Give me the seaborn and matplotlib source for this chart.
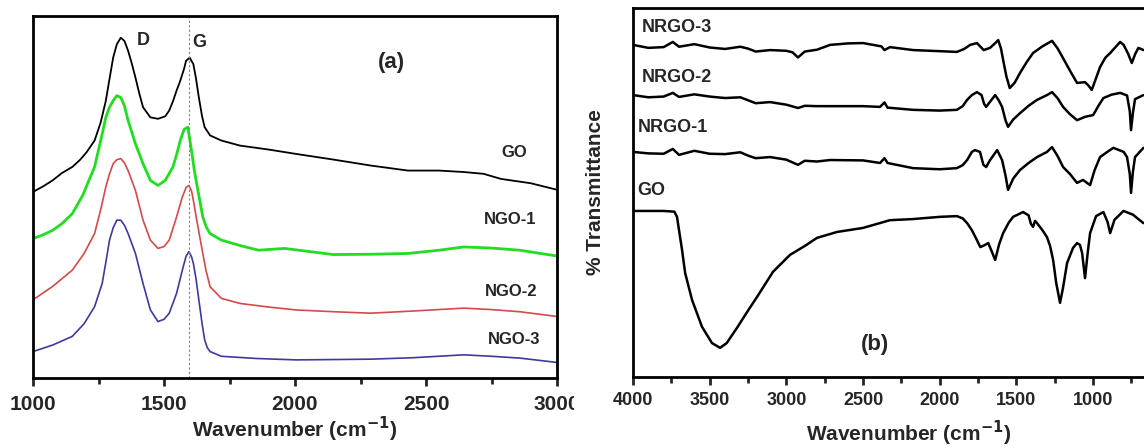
import numpy as np
import pandas as pd
import seaborn as sns
import matplotlib.pyplot as plt
from matplotlib.patches import Rectangle
from matplotlib.ticker import MultipleLocator, FixedLocator

# ---------------- (a) Raman spectra ----------------
raman_go_x = [1000, 1040, 1075, 1110, 1150, 1180, 1205, 1235, 1258, 1278, 1292, 1306, 1320, 1335,
              1349, 1363, 1377, 1391, 1405, 1420, 1448, 1477, 1505, 1520, 1534, 1548, 1562, 1577,
              1584, 1598, 1612, 1622, 1633, 1645, 1655, 1676, 1719, 1790, 1900, 2004, 2150, 2288,
              2431, 2550, 2644, 2720, 2786, 2900, 3000]
raman_go_y = [51.4, 53.0, 54.6, 56.6, 58.3, 60.3, 62.4, 65.6, 70.5, 76.6, 82.6, 88.5, 92.2, 94.0,
              93.1, 90.4, 86.9, 83.0, 78.8, 74.8, 72.0, 71.6, 72.3, 73.9, 76.4, 79.4, 82.1, 85.5,
              87.6, 88.5, 86.7, 82.8, 77.5, 72.4, 69.3, 67.0, 65.6, 64.2, 63.1, 61.9, 60.3, 58.7,
              57.3, 57.3, 56.9, 56.4, 55.0, 53.8, 52.0]

raman_ngo1_x = [1000, 1040, 1075, 1110, 1150, 1190, 1235, 1258, 1278, 1292, 1306, 1320, 1335, 1349,
                1363, 1391, 1420, 1448, 1477, 1505, 1534, 1548, 1562, 1577, 1591, 1605, 1616, 1627,
                1648, 1662, 1676, 1719, 1790, 1861, 1960, 2146, 2300, 2431, 2550, 2644, 2750, 2858,
                3000]
raman_ngo1_y = [38.5, 39.6, 40.8, 42.6, 45.4, 50.5, 58.3, 65.5, 72.0, 74.8, 76.6, 78.0, 77.5, 75.2,
                71.1, 64.7, 59.2, 54.6, 53.2, 54.6, 58.3, 61.7, 65.6, 68.7, 69.3, 62.8, 57.2, 52.8,
                44.5, 41.6, 39.9, 38.1, 36.6, 35.3, 35.8, 34.1, 34.2, 34.4, 35.3, 36.2, 35.9, 35.3,
                33.7]

raman_ngo2_x = [1000, 1075, 1150, 1195, 1235, 1258, 1278, 1292, 1306, 1320, 1335, 1349, 1363, 1391,
                1420, 1448, 1477, 1500, 1520, 1548, 1570, 1584, 1595, 1605, 1612, 1625, 1641, 1660,
                1676, 1719, 1790, 1900, 2004, 2150, 2288, 2450, 2644, 2750, 2858, 3000]
raman_ngo2_y = [21.6, 25.3, 29.8, 34.4, 39.9, 46.4, 52.8, 56.4, 59.2, 60.3, 60.6, 59.4, 57.3, 51.8,
                43.6, 38.1, 35.8, 36.3, 38.1, 44.5, 50.0, 52.6, 53.2, 51.7, 49.1, 43.6, 37.2, 29.8,
                25.2, 22.0, 20.6, 19.6, 18.8, 18.3, 17.9, 18.5, 19.3, 18.9, 18.3, 17.0]

raman_ngo3_x = [1000, 1075, 1150, 1195, 1235, 1264, 1280, 1292, 1306, 1320, 1335, 1349, 1363, 1391,
                1420, 1448, 1477, 1500, 1520, 1548, 1570, 1584, 1595, 1605, 1612, 1622, 1633, 1645,
                1655, 1665, 1676, 1719, 1850, 2004, 2150, 2288, 2450, 2644, 2750, 2858, 3000]
raman_ngo3_y = [7.3, 9.1, 11.5, 15.0, 19.7, 26.1, 32.8, 38.1, 41.5, 43.6, 43.6, 42.2, 39.9, 34.4,
                26.1, 18.8, 15.6, 16.2, 17.9, 23.4, 29.8, 33.6, 34.9, 33.5, 31.7, 27.5, 21.6, 15.2,
                10.6, 8.4, 7.3, 6.0, 5.4, 5.0, 5.1, 5.2, 5.6, 6.4, 6.0, 5.5, 4.3]

raman_names = ["GO", "NGO-1", "NGO-2", "NGO-3"]
raman_colors = ["black", "#22dd22", "#d24a4a", "#3b3b9c"]
g_band = 1595

# ---------------- (b) FTIR spectra ----------------
ftir_go_x = [4000, 3800, 3730, 3713, 3680, 3660, 3615, 3550, 3485, 3432, 3389, 3322, 3256, 3191,
             3087, 2976, 2880, 2800, 2670, 2500, 2324, 2174, 2000, 1888, 1850, 1821, 1790, 1757,
             1735, 1713, 1683, 1660, 1638, 1612, 1586, 1550, 1521, 1456, 1420, 1405, 1391, 1378,
             1365, 1330, 1300, 1280, 1260, 1240, 1215, 1195, 1169, 1130, 1104, 1085, 1071, 1052,
             1035, 1019, 980, 932, 905, 888, 860, 801, 740, 671]
ftir_go_y = [45.0, 45.0, 44.8, 43.4, 34.4, 28.2, 20.9, 13.6, 9.2, 7.9, 9.2, 13.3, 17.6, 21.7,
             28.5, 33.1, 35.5, 37.7, 39.3, 40.4, 42.5, 42.8, 43.4, 43.6, 43.0, 41.7, 39.8, 37.1,
             35.2, 35.6, 36.3, 34.0, 31.7, 36.0, 39.0, 41.8, 43.4, 44.7, 43.8, 41.5, 40.7, 42.3,
             41.7, 39.8, 37.9, 35.5, 31.7, 25.5, 20.1, 24.3, 30.9, 35.0, 36.3, 35.8, 33.6, 26.8,
             33.5, 39.0, 43.6, 44.7, 42.0, 39.0, 42.6, 45.0, 44.0, 41.7]

ftir_n1_x = [4000, 3900, 3800, 3740, 3700, 3600, 3500, 3400, 3300, 3250, 3200, 3106, 3000, 2924,
             2880, 2800, 2715, 2500, 2389, 2360, 2340, 2174, 2000, 1888, 1850, 1821, 1790, 1770,
             1737, 1715, 1697, 1671, 1625, 1593, 1570, 1554, 1520, 1476, 1420, 1365, 1300, 1267,
             1230, 1195, 1150, 1104, 1065, 1019, 990, 954, 900, 867, 800, 778, 760, 752, 740,
             726, 671]
ftir_n1_y = [61.0, 60.6, 60.5, 61.8, 60.2, 61.3, 60.5, 60.4, 60.9, 60.0, 59.3, 59.6, 58.9, 57.5,
             58.6, 58.4, 58.8, 58.7, 58.0, 59.3, 58.0, 56.6, 56.3, 56.6, 57.4, 58.8, 61.0, 61.5,
             61.0, 57.5, 56.9, 58.8, 61.5, 58.8, 54.5, 50.7, 53.8, 56.1, 58.0, 59.6, 61.0, 62.3,
             59.8, 56.9, 55.0, 52.6, 53.4, 52.0, 56.0, 59.6, 61.2, 62.1, 61.0, 59.6, 55.0, 49.9,
             55.5, 59.6, 62.1]

ftir_n2_x = [4000, 3900, 3800, 3740, 3700, 3600, 3500, 3400, 3300, 3250, 3200, 3106, 3000, 2924,
             2880, 2800, 2715, 2500, 2389, 2360, 2340, 2174, 2000, 1888, 1850, 1821, 1790, 1757,
             1727, 1710, 1697, 1638, 1615, 1593, 1570, 1554, 1520, 1476, 1420, 1365, 1300, 1267,
             1230, 1195, 1150, 1104, 1052, 999, 960, 932, 880, 823, 778, 760, 752, 740, 726, 671]
ftir_n2_y = [76.4, 75.8, 76.0, 77.0, 75.9, 76.6, 76.0, 75.6, 75.8, 75.0, 74.2, 74.5, 73.8, 72.9,
             73.5, 73.4, 73.4, 73.4, 73.2, 74.4, 73.0, 72.4, 72.2, 72.4, 73.4, 75.1, 76.4, 77.2,
             76.4, 74.0, 73.2, 76.4, 75.0, 73.2, 69.5, 67.8, 69.8, 71.5, 73.5, 75.1, 76.4, 77.2,
             75.5, 73.2, 71.2, 69.6, 70.5, 71.0, 73.8, 75.6, 76.5, 77.0, 76.3, 72.0, 66.9, 71.5,
             75.3, 76.4]

ftir_n3_x = [4000, 3900, 3800, 3740, 3700, 3600, 3500, 3400, 3300, 3250, 3200, 3106, 3000, 2960,
             2924, 2880, 2800, 2715, 2600, 2500, 2380, 2360, 2324, 2174, 2000, 1888, 1840, 1801,
             1757, 1713, 1671, 1640, 1618, 1600, 1586, 1565, 1543, 1510, 1476, 1430, 1391, 1330,
             1267, 1230, 1195, 1150, 1104, 1052, 1030, 1008, 980, 954, 920, 888, 823, 800, 770,
             747, 725, 704, 671]
ftir_n3_y = [90.0, 89.2, 89.4, 90.8, 89.5, 90.2, 89.3, 88.9, 89.5, 89.0, 88.2, 88.6, 88.4, 88.0,
             86.6, 88.2, 88.7, 90.0, 90.4, 90.5, 89.6, 88.6, 89.4, 88.6, 88.3, 88.1, 88.9, 90.0,
             90.5, 88.6, 89.2, 90.4, 91.3, 89.0, 85.9, 81.5, 78.3, 79.8, 82.4, 85.5, 87.8, 89.6,
             91.1, 89.0, 86.4, 83.0, 79.7, 79.9, 79.0, 77.8, 81.0, 84.0, 86.5, 87.8, 90.8, 90.0,
             87.5, 85.1, 87.5, 89.2, 88.6]

ftir_names = ["GO", "NRGO-1", "NRGO-2", "NRGO-3"]

# ---------------- figure ----------------
sns.set_style("white")
plt.rcParams['font.family'] = ['Liberation Sans', 'DejaVu Sans']
plt.rcParams['font.weight'] = 'bold'

fig = plt.figure(figsize=(11.44, 4.48), dpi=100)
ax1 = fig.add_axes([33 / 1144, 1 - 378 / 448, 524 / 1144, 362 / 448])
ax2 = fig.add_axes([633 / 1144, 1 - 377 / 448, 552 / 1144, 369 / 448])

# panel (a)
raman_sets = [(raman_go_x, raman_go_y), (raman_ngo1_x, raman_ngo1_y),
              (raman_ngo2_x, raman_ngo2_y), (raman_ngo3_x, raman_ngo3_y)]
raman_lw = [1.3, 2.0, 1.2, 1.2]
for (xs, ys), c, lw in zip(raman_sets, raman_colors, raman_lw):
    sns.lineplot(x=xs, y=ys, ax=ax1, color=c, linewidth=lw, sort=False)
ax1.axvline(g_band, color='grey', linestyle=(0, (2, 2)), linewidth=0.8)

ax1.set_xlim(1000, 3000)
ax1.set_ylim(0, 100)
ax1.set_yticks([])
ax1.xaxis.set_major_locator(MultipleLocator(500))
ax1.xaxis.set_minor_locator(MultipleLocator(250))
ax1.tick_params(axis='x', which='major', direction='out', length=6, width=2, labelsize=15, pad=6, bottom=True)
ax1.tick_params(axis='x', which='minor', direction='out', length=4, width=2, bottom=True)
ax1.set_xlabel('Wavenumber (cm$^{\\mathbf{-1}}$)', fontsize=15, fontweight='bold', labelpad=1)

raman_label_pos = [(2836, 62.4), (2822, 43.8), (2826, 23.9), (2836, 10.6)]
for name, (lx, ly) in zip(raman_names, raman_label_pos):
    ax1.text(lx, ly, name, fontsize=12, fontweight='bold', ha='center', va='center')
ax1.text(1420, 93.1, 'D', fontsize=13, fontweight='bold', ha='center', va='center')
ax1.text(1633, 92.7, 'G', fontsize=13, fontweight='bold', ha='center', va='center')
ax1.text(2367, 87.2, '(a)', fontsize=16, fontweight='bold', ha='center', va='center')

# panel (b)
ftir_sets = [(ftir_go_x, ftir_go_y), (ftir_n1_x, ftir_n1_y),
             (ftir_n2_x, ftir_n2_y), (ftir_n3_x, ftir_n3_y)]
for xs, ys in ftir_sets:
    sns.lineplot(x=xs, y=ys, ax=ax2, color='black', linewidth=1.8, sort=False)

ax2.set_xlim(4000, 400)
ax2.set_ylim(0, 100)
ax2.set_yticks([])
ax2.xaxis.set_major_locator(FixedLocator([4000, 3500, 3000, 2500, 2000, 1500, 1000]))
ax2.xaxis.set_minor_locator(MultipleLocator(250))
ax2.tick_params(axis='x', which='major', direction='out', length=6, width=2, labelsize=13, pad=5, bottom=True)
ax2.tick_params(axis='x', which='minor', direction='out', length=4, width=2, bottom=True)
ax2.set_xlabel('Wavenumber (cm$^{\\mathbf{-1}}$)', fontsize=15, fontweight='bold', labelpad=7)
ax2.set_ylabel('% Transmittance', fontsize=15, fontweight='bold', labelpad=20)

ftir_label_pos = [(3970, 50.5), (3970, 67.5), (3945, 81.3), (3945, 94.6)]
for name, (lx, ly) in zip(ftir_names, ftir_label_pos):
    ax2.text(lx, ly, name, fontsize=13, fontweight='bold', ha='left', va='center')
ax2.text(2421, 8.7, '(b)', fontsize=16, fontweight='bold', ha='center', va='center')

for ax in (ax1, ax2):
    for sp in ax.spines.values():
        sp.set_visible(True)
        sp.set_color('black')
        sp.set_linewidth(2)

# the left panel image is cut just after its right edge
fig.patches.append(Rectangle((574 / 1144, 0), 30 / 1144, 60 / 448, transform=fig.transFigure,
                             facecolor='white', edgecolor='none', zorder=10))

fig.savefig('out.png', dpi=100)
